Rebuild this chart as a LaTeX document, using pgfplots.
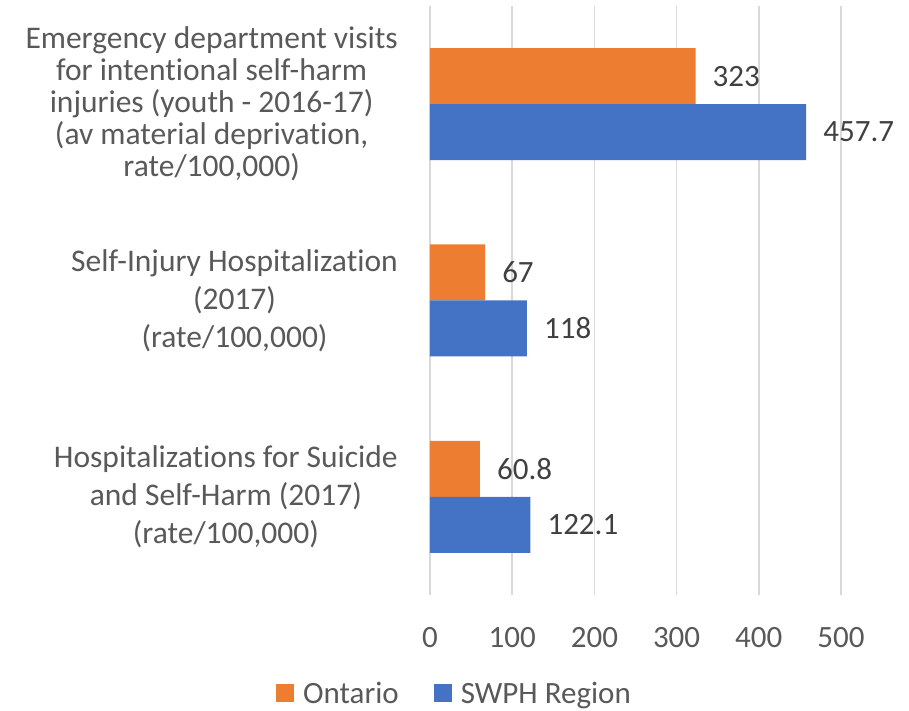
\documentclass[border=0pt]{standalone}
\usepackage{fontspec}
\setmainfont[Ligatures=NoCommon]{Carlito}
\usepackage{pgfplots}
\pgfplotsset{compat=1.18}
\definecolor{ontario}{HTML}{ED7D31}
\definecolor{swph}{HTML}{4472C4}
\definecolor{gridc}{HTML}{D9D9D9}
\definecolor{ticktext}{HTML}{595959}
\definecolor{valtext}{HTML}{404040}
\begin{document}
\begin{tikzpicture}
\useasboundingbox (0,0) rectangle (909bp,711bp);
\begin{axis}[
    at={(430bp,116bp)}, anchor=south west,
    scale only axis, width=411bp, height=589bp,
    xbar, bar width=56bp,
    xmin=0, xmax=500,
    ymin=-0.5, ymax=2.5,
    xtick={0,100,200,300,400,500},
    ytick={0,1,2},
    yticklabels={
      {Hospitalizations for Suicide\\and Self-Harm (2017)\\(rate/100,000)},
      {Self-Injury Hospitalization\\(2017)\\(rate/100,000)},
      {Emergency department visits\\[-6bp]for intentional self-harm\\[-6bp]injuries (youth - 2016-17)\\[-6bp](av material deprivation,\\[-6bp]rate/100,000)}
    },
    axis line style={draw=none},
    major tick length=0pt,
    xmajorgrids, grid style={gridc, line width=1.5bp},
    /pgf/number format/assume math mode=true,
    xticklabel style={font=\fontsize{31bp}{38bp}\selectfont, text=ticktext, inner sep=0pt, yshift=-32bp},
    yticklabel style={font=\fontsize{31.5bp}{38bp}\selectfont, text=ticktext, align=center, inner sep=0pt, anchor=east, xshift=-32bp},
    point meta=explicit symbolic,
    nodes near coords={\pgfplotspointmeta},
    nodes near coords align={horizontal},
    every node near coord/.append style={font=\fontsize{31bp}{38bp}\selectfont, text=valtext, inner sep=0pt, anchor=west, xshift=17bp},
    legend style={draw=none, fill=none, inner sep=0pt, at={(-0.3747,-0.1666)}, anchor=west,
      font=\fontsize{31bp}{38bp}\selectfont, text=ticktext,
      legend columns=2, nodes={inner sep=0pt},
      /tikz/every odd column/.append style={column sep=9bp},
      /tikz/every even column/.append style={column sep=35bp}},
    legend image code/.code={\fill[#1] (0bp,-9bp) rectangle (18bp,9bp);},
]
\addplot[fill=ontario, draw=none, bar shift=28bp] coordinates {
    (60.8,0) [60.8]
    (67,1) [67]
    (323,2) [323]
};
\addlegendentry{Ontario}
\addplot[fill=swph, draw=none, bar shift=-28bp] coordinates {
    (122.1,0) [122.1]
    (118,1) [118]
    (457.7,2) [457.7]
};
\addlegendentry{SWPH Region}
\end{axis}
\end{tikzpicture}
\end{document}
